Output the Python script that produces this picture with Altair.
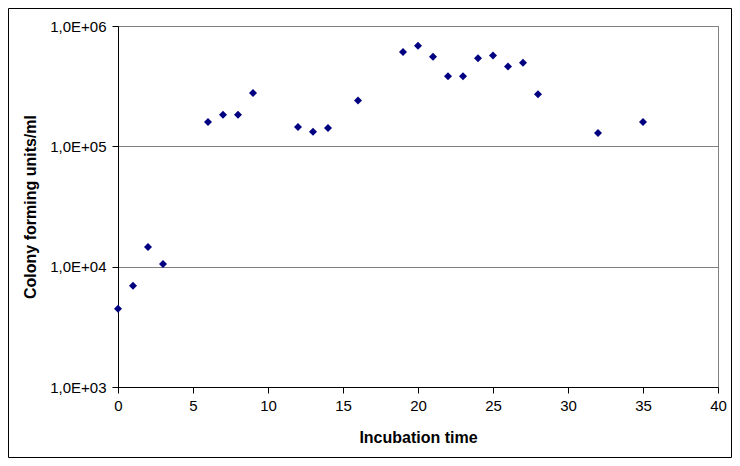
import altair as alt
import pandas as pd

# Incubation time (x) and colony forming units/ml (y)
incubation_time = [0, 1, 2, 3, 6, 7, 8, 9, 12, 13, 14, 16, 19, 20, 21, 22, 23,
                   24, 25, 26, 27, 28, 32, 35]
cfu_per_ml = [4470, 6940, 14600, 10500, 159000, 183000, 183000, 277000,
              145000, 132000, 142000, 240000, 609000, 684000, 554000, 383000,
              383000, 540000, 568000, 460000, 494000, 271000, 129000, 159000]

x_ticks = [0, 5, 10, 15, 20, 25, 30, 35, 40]
y_ticks = [1000, 10000, 100000, 1000000]

df = pd.DataFrame({"t": incubation_time, "cfu": cfu_per_ml})

FONT = "Liberation Sans"

points = alt.Chart(df).mark_point(
    shape="diamond", filled=True, color="#000080", size=64, opacity=1
).encode(
    x=alt.X("t:Q",
            scale=alt.Scale(domain=[0, 40], nice=False, zero=False),
            axis=alt.Axis(values=x_ticks, title="Incubation time", grid=False,
                          domain=True, domainColor="#000000", tickColor="#000000",
                          tickSize=6, labelFontSize=15, labelFont=FONT,
                          labelColor="#000000", labelPadding=5, labelFlush=False,
                          titleFont=FONT, titleFontSize=16, titleFontWeight="bold",
                          titleColor="#000000", titleX=300, titleY=50,
                          titleBaseline="middle", titleAlign="center")),
    y=alt.Y("cfu:Q",
            scale=alt.Scale(type="log", domain=[1000, 1000000], nice=False),
            axis=alt.Axis(values=y_ticks, title="Colony forming units/ml",
                          grid=True, gridColor="#808080", gridOpacity=1,
                          domain=True, domainColor="#000000", tickColor="#000000",
                          tickSize=6, labelFontSize=15, labelFont=FONT,
                          labelColor="#000000", labelPadding=6, labelFlush=False,
                          labelExpr="'1,0E+0' + format(log(datum.value)/LN10, 'd')",
                          titleFont=FONT, titleFontSize=16, titleFontWeight="bold",
                          titleColor="#000000", titleX=-88, titleY=180.5,
                          titleAngle=270, titleBaseline="middle",
                          titleAlign="center")),
)

frame = alt.Chart(pd.DataFrame({"a": [0]})).mark_rect(
    fill=None, stroke="#000000", strokeWidth=1
).encode(
    x=alt.value(-109.5), x2=alt.value(613.5),
    y=alt.value(-17.5), y2=alt.value(431.5),
)

chart = alt.layer(points, frame).properties(
    width=600, height=361,
    padding={"left": 110, "top": 18, "right": 14, "bottom": 71},
    autosize=alt.AutoSizeParams(type="none"),
    background="#ffffff",
).configure_view(
    stroke="#808080", strokeWidth=1
)

chart.save("out.html", embed_options={"renderer": "svg", "actions": False})
